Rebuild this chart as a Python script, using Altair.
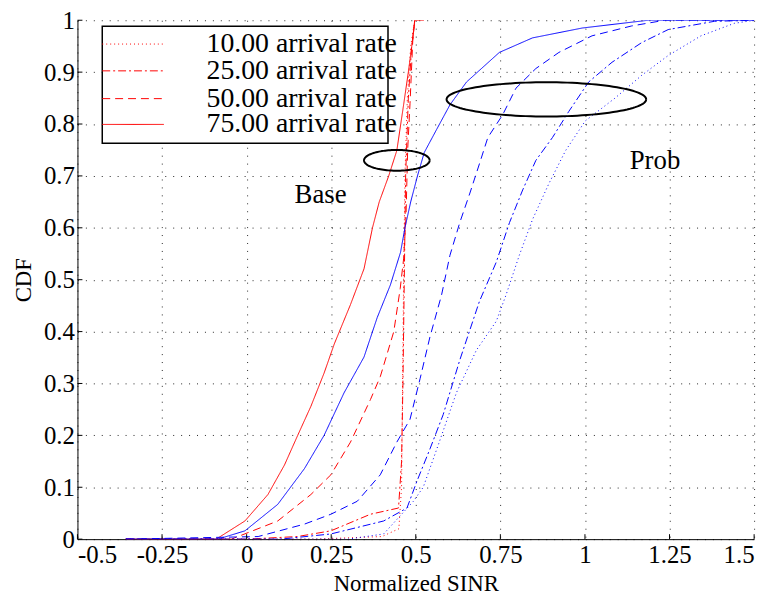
import altair as alt
import numpy as np
import pandas as pd

# ---- data ----
rates = ["10.00 arrival rate", "25.00 arrival rate", "50.00 arrival rate", "75.00 arrival rate"]

base10_x = [-0.357, 0.20, 0.40, 0.45, 0.458, 0.461, 0.464, 0.468, 0.475, 0.485, 0.497]
base10_y = [0, 0, 0.005, 0.02, 0.10, 0.30, 0.50, 0.70, 0.85, 0.95, 1.0]

base25_x = [-0.357, 0.0, 0.15, 0.249, 0.366, 0.449, 0.458, 0.462, 0.466, 0.470, 0.478, 0.488, 0.497]
base25_y = [0, 0, 0.005, 0.016, 0.048, 0.06, 0.15, 0.30, 0.50, 0.70, 0.85, 0.95, 1.0]

base50_x = [-0.357, -0.045, 0.092, 0.19, 0.249, 0.307, 0.366, 0.395, 0.435, 0.454, 0.464, 0.471, 0.476, 0.483, 0.491, 0.497]
base50_y = [0, 0, 0.035, 0.086, 0.124, 0.187, 0.269, 0.313, 0.40, 0.483, 0.54, 0.62, 0.75, 0.84, 0.96, 1.0]

base75_x = [-0.357, -0.09, -0.005, 0.063, 0.112, 0.151, 0.19, 0.229, 0.259, 0.307, 0.347, 0.372, 0.392, 0.42, 0.444, 0.464, 0.478, 0.491, 0.497, 0.524]
base75_y = [0, 0, 0.035, 0.086, 0.143, 0.20, 0.256, 0.32, 0.376, 0.452, 0.521, 0.60, 0.65, 0.70, 0.749, 0.837, 0.90, 0.964, 1.0, 1.0]

prob10_x = [-0.357, 0.30, 0.405, 0.493, 0.522, 0.571, 0.62, 0.679, 0.738, 0.767, 0.806, 0.845, 0.894, 0.943, 1.001, 1.089, 1.168, 1.246, 1.343, 1.441, 1.5]
prob10_y = [0, 0, 0.01, 0.073, 0.10, 0.19, 0.282, 0.364, 0.42, 0.471, 0.547, 0.616, 0.686, 0.749, 0.806, 0.85, 0.894, 0.932, 0.97, 0.994, 1.0]

prob25_x = [-0.357, 0.10, 0.249, 0.405, 0.474, 0.503, 0.542, 0.581, 0.63, 0.688, 0.738, 0.777, 0.816, 0.855, 0.904, 0.952, 1.011, 1.08, 1.168, 1.246, 1.383, 1.5]
prob25_y = [0, 0, 0.01, 0.035, 0.06, 0.111, 0.174, 0.24, 0.345, 0.458, 0.534, 0.61, 0.673, 0.73, 0.774, 0.824, 0.881, 0.919, 0.957, 0.982, 0.998, 1.0]

prob50_x = [-0.357, 0.034, 0.171, 0.249, 0.327, 0.395, 0.444, 0.483, 0.513, 0.542, 0.576, 0.601, 0.63, 0.66, 0.688, 0.713, 0.757, 0.796, 0.855, 0.923, 1.021, 1.138, 1.236, 1.5]
prob50_y = [0, 0.005, 0.029, 0.048, 0.073, 0.124, 0.187, 0.231, 0.31, 0.39, 0.47, 0.547, 0.61, 0.667, 0.723, 0.774, 0.818, 0.869, 0.907, 0.938, 0.97, 0.989, 1.0, 1.0]

prob75_x = [-0.357, -0.085, -0.005, 0.092, 0.171, 0.229, 0.288, 0.347, 0.386, 0.425, 0.455, 0.468, 0.485, 0.505, 0.525, 0.562, 0.601, 0.65, 0.747, 0.845, 0.992, 1.187, 1.5]
prob75_y = [0, 0, 0.016, 0.067, 0.136, 0.2, 0.282, 0.351, 0.427, 0.49, 0.553, 0.60, 0.65, 0.70, 0.745, 0.79, 0.837, 0.881, 0.938, 0.966, 0.985, 1.0, 1.0]

x_ticks = [-0.5, -0.25, 0, 0.25, 0.5, 0.75, 1, 1.25, 1.5]
y_ticks = [0, 0.1, 0.2, 0.3, 0.4, 0.5, 0.6, 0.7, 0.8, 0.9, 1]

# annotations: ellipse centers / radii (data units) and labels
ell_cx = [0.444, 0.886]
ell_cy = [0.730, 0.8475]
ell_rx = [0.097, 0.295]
ell_ry = [0.020, 0.033]
label_text = ["Base", "Prob"]
label_x = [0.2185, 1.207]
label_y = [0.663, 0.729]

dash_styles = [[1, 3], [8, 3, 2, 3], [8, 5], [1, 0]]

# ---- tables ----
series = [
    ("Base", rates[0], base10_x, base10_y),
    ("Base", rates[1], base25_x, base25_y),
    ("Base", rates[2], base50_x, base50_y),
    ("Base", rates[3], base75_x, base75_y),
    ("Prob", rates[0], prob10_x, prob10_y),
    ("Prob", rates[1], prob25_x, prob25_y),
    ("Prob", rates[2], prob50_x, prob50_y),
    ("Prob", rates[3], prob75_x, prob75_y),
]
rows = []
for scheme, rate, xs, ys in series:
    for i, (xv, yv) in enumerate(zip(xs, ys)):
        rows.append({"scheme": scheme, "rate": rate, "x": xv, "y": yv, "i": i})
df = pd.DataFrame(rows)

t = np.linspace(0, 2 * np.pi, 121)
erows = []
for k in range(len(ell_cx)):
    for j, tt in enumerate(t):
        erows.append({"e": k, "j": j,
                      "x": ell_cx[k] + ell_rx[k] * np.cos(tt),
                      "y": ell_cy[k] + ell_ry[k] * np.sin(tt)})
edf = pd.DataFrame(erows)
tdf = pd.DataFrame({"label": label_text, "x": label_x, "y": label_y})
xt = pd.DataFrame({"v": x_ticks})
yt = pd.DataFrame({"v": y_ticks})
one = pd.DataFrame({"k": [0]})

FONT = "Liberation Serif"
W, H = 682, 523
TICK_FS = 25
TITLE_FS = 23

xscale = alt.Scale(domain=[-0.5, 1.5], nice=False, zero=False)
yscale = alt.Scale(domain=[0, 1], nice=False)

xaxis = alt.Axis(values=x_ticks, title="Normalized SINR",
                 labelExpr="replace(format(datum.value, '~g'), '\u2212', '-')",
                 grid=True, labelPadding=4, titlePadding=5)
yaxis = alt.Axis(values=y_ticks, title="CDF", format="~g", grid=True,
                 labelPadding=3, titlePadding=8)

lines = alt.Chart(df).mark_line(strokeWidth=1, clip=True).encode(
    x=alt.X("x:Q", scale=xscale, axis=xaxis),
    y=alt.Y("y:Q", scale=yscale, axis=yaxis),
    color=alt.Color("scheme:N", scale=alt.Scale(domain=["Base", "Prob"], range=["#ff0000", "#0000ff"]), legend=None),
    strokeDash=alt.StrokeDash("rate:N", scale=alt.Scale(domain=rates, range=dash_styles), legend=None),
    order="i:Q",
)

ell = alt.Chart(edf).mark_line(color="black", strokeWidth=2).encode(
    x="x:Q", y="y:Q", detail="e:N", order="j:Q")

txt = alt.Chart(tdf).mark_text(fontSize=27, color="black").encode(
    x="x:Q", y="y:Q", text="label:N")

xtk = alt.Chart(xt).mark_rule(color="black", strokeWidth=1).encode(
    x="v:Q", y=alt.value(H), y2=alt.value(H - 5))
ytk = alt.Chart(yt).mark_rule(color="black", strokeWidth=1).encode(
    y="v:Q", x=alt.value(0), x2=alt.value(5))

# ---- manual legend (box + 4 entries), positioned in plot pixels ----
LX0, LX1, LY0, LY1 = 25, 313, 6, 124
row_y = [24, 51, 79, 105]
leg_layers = [
    alt.Chart(one).mark_rect(fill="white", stroke="black", strokeWidth=1.5).encode(
        x=alt.value(LX0), x2=alt.value(LX1), y=alt.value(LY0), y2=alt.value(LY1))
]
for r, lab in enumerate(rates):
    leg_layers.append(
        alt.Chart(one).mark_rule(color="#ff0000", strokeWidth=1, strokeDash=dash_styles[r]).encode(
            x=alt.value(LX0), x2=alt.value(LX0 + 62), y=alt.value(row_y[r]))
    )
    leg_layers.append(
        alt.Chart(one).mark_text(fontSize=28, color="black", align="right",
                                 baseline="middle").encode(
            x=alt.value(322), y=alt.value(row_y[r]), text=alt.value(lab))
    )

chart = alt.layer(lines, ell, txt, xtk, ytk, *leg_layers).properties(
    width=W, height=H,
    autosize=alt.AutoSizeParams(type="none"),
    padding={"left": 70, "top": 10, "right": 14, "bottom": 60},
).configure(font=FONT).configure_view(strokeWidth=0).configure_axis(
    labelFont=FONT, labelFontSize=TICK_FS, labelColor="black",
    titleFont=FONT, titleFontSize=TITLE_FS, titleColor="black", titleFontWeight="normal",
    domainColor="black", domainWidth=1, tickSize=0,
    gridColor="black", gridDash=[1, 7], gridOpacity=0.85, gridWidth=1,
).configure_text(font=FONT)

chart.save("out.html", embed_options={"renderer": "svg", "actions": False})
